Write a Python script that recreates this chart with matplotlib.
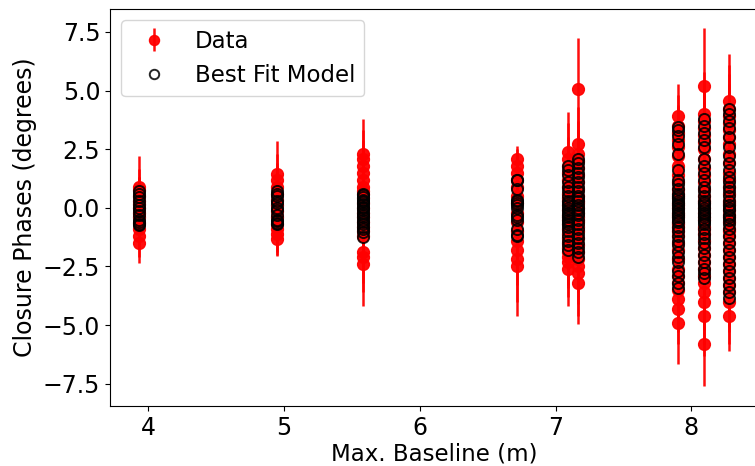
import matplotlib
matplotlib.use("Agg")
import matplotlib.pyplot as plt
import numpy as np

# ---- data: per-baseline groups ----
x_groups = [3.93, 4.95, 5.585, 6.715, 7.095, 7.165, 7.90, 8.095, 8.275]

data_groups = [
    [0.9, 0.75, 0.5, 0.3, 0.15, 0.0, -0.2, -0.4, -0.65, -0.9, -1.2, -1.5],
    [1.45, 1.2, 0.9, 0.6, 0.35, 0.1, -0.15, -0.4, -0.7, -0.9, -1.1, -1.35],
    [2.3, 2.1, 1.8, 1.5, 1.2, 0.9, 0.6, 0.4, 0.2, 0.0, -0.2, -0.4, -0.6, -0.8,
     -1.0, -1.2, -1.9, -2.1, -2.4, 0.7],
    [2.1, 1.8, 1.5, 1.2, 0.9, 0.5, 0.2, -0.2, -0.6, -1.0, -1.4, -1.8, -2.2, -2.5],
    [2.4, 2.1, 1.8, 1.5, 1.2, 0.9, 0.6, 0.3, 0.1, -0.1, -0.3, -0.5, -0.7, -0.9,
     -1.1, -1.3, -1.5, -1.7, -1.9, -2.1, -2.3, -2.6, 0.4, -0.4],
    [5.05, 2.7, 2.3, 2.0, 1.7, 1.4, 1.1, 0.8, 0.5, 0.2, 0.0, -0.2, -0.4, -0.6,
     -0.8, -1.0, -1.3, -1.6, -1.9, -2.2, -2.5, -2.8, -3.2, 0.3, -0.5],
    [3.9, 3.5, 3.2, 2.9, 2.6, 2.2, 1.8, 1.4, 1.1, 0.8, 0.6, 0.4, 0.2, 0.0, -0.2,
     -0.4, -0.6, -0.8, -1.0, -1.2, -1.5, -1.8, -2.2, -2.6, -2.9, -3.2, -3.5,
     -3.9, -4.3, -4.9, 0.1, -0.3, -0.7, 0.5],
    [5.2, 4.0, 3.7, 3.4, 3.1, 2.8, 2.5, 2.1, 1.7, 1.4, 1.1, 0.8, 0.5, 0.2, 0.0,
     -0.2, -0.5, -0.8, -1.1, -1.4, -1.7, -2.0, -2.3, -2.6, -2.9, -3.2, -3.6,
     -4.0, -4.6, -5.8, 0.3, -0.4, -0.9],
    [4.55, 4.2, 3.9, 3.6, 3.3, 3.0, 2.7, 2.3, 1.9, 1.5, 1.2, 0.9, 0.6, 0.3, 0.1,
     -0.1, -0.3, -0.6, -0.9, -1.2, -1.5, -1.8, -2.1, -2.4, -2.7, -3.0, -3.3,
     -3.6, -4.0, -4.6, 0.2, -0.4, -1.0],
]

err_groups = [
    [1.3, 0.9, 0.8, 1.0, 0.9, 1.1, 0.8, 0.9, 1.0, 0.8, 0.9, 0.85],
    [1.4, 1.1, 1.0, 1.2, 0.9, 1.0, 0.9, 1.1, 0.9, 1.0, 0.9, 0.7],
    [1.5, 1.2, 1.1, 1.0, 1.2, 1.1, 0.9, 1.0, 1.1, 1.0, 0.9, 1.1, 1.0, 0.9,
     1.0, 1.2, 1.3, 1.5, 1.8, 1.0],
    [0.55, 0.7, 0.8, 0.9, 1.0, 1.1, 0.9, 1.0, 1.1, 1.2, 1.3, 1.5, 1.8, 2.1],
    [1.7, 1.5, 1.2, 1.1, 1.0, 1.2, 1.1, 1.0, 1.2, 1.1, 1.0, 1.2, 1.1, 1.0,
     1.2, 1.1, 1.3, 1.2, 1.4, 1.3, 1.5, 1.6, 1.0, 1.1],
    [2.2, 1.6, 1.4, 1.3, 1.2, 1.3, 1.1, 1.2, 1.3, 1.1, 1.2, 1.3, 1.1, 1.2,
     1.3, 1.2, 1.4, 1.3, 1.5, 1.4, 1.6, 1.8, 1.75, 1.2, 1.3],
    [1.4, 1.3, 1.2, 1.4, 1.3, 1.2, 1.4, 1.3, 1.2, 1.4, 1.3, 1.2, 1.4, 1.3, 1.2,
     1.4, 1.3, 1.2, 1.4, 1.3, 1.2, 1.4, 1.3, 1.2, 1.4, 1.3, 1.2, 1.4, 1.5,
     1.75, 1.3, 1.2, 1.4, 1.3],
    [2.45, 1.8, 1.7, 1.6, 1.7, 1.6, 1.8, 1.7, 1.6, 1.8, 1.7, 1.6, 1.8, 1.7, 1.6,
     1.8, 1.7, 1.6, 1.8, 1.7, 1.6, 1.8, 1.7, 1.6, 1.8, 1.7, 1.6, 1.8, 1.7,
     1.8, 1.7, 1.6, 1.8],
    [2.0, 1.9, 1.8, 1.7, 1.9, 1.8, 1.7, 1.9, 1.8, 1.7, 1.9, 1.8, 1.7, 1.9, 1.8,
     1.7, 1.9, 1.8, 1.7, 1.9, 1.8, 1.7, 1.9, 1.8, 1.7, 1.9, 1.8, 1.7, 1.8,
     1.5, 1.8, 1.7, 1.9],
]

model_groups = [
    [0.7, 0.6, 0.45, 0.3, 0.1, 0.0, -0.15, -0.3, -0.5, -0.6, -0.75, -0.7],
    [0.7, 0.6, 0.5, 0.3, 0.2, 0.0, -0.1, -0.3, -0.5, -0.55, -0.65, -0.7],
    [0.6, 0.55, 0.45, 0.35, 0.25, 0.15, 0.05, 0.0, -0.1, -0.2, -0.3, -0.4,
     -0.5, -0.6, -0.7, -0.8, -0.9, -1.05, -1.25, 0.3],
    [1.2, 1.2, 0.8, 0.35, 0.3, 0.1, 0.0, -0.4, -0.5, -0.9, -1.15, -1.2, -0.3, 0.2],
    [1.8, 1.6, 1.4, 1.1, 0.9, 0.7, 0.5, 0.3, 0.1, -0.1, -0.3, -0.5, -0.6, -0.8,
     -1.0, -1.2, -1.4, -1.6, -1.8, -0.2, 0.0, -0.4, 0.2, -0.7],
    [2.1, 1.9, 1.7, 1.5, 1.3, 1.1, 0.9, 0.7, 0.5, 0.3, 0.1, -0.1, -0.3, -0.5,
     -0.7, -0.9, -1.1, -1.3, -1.5, -1.7, -1.9, -2.1, -0.2, 0.0, 0.4],
    [3.45, 3.3, 3.05, 2.7, 2.3, 1.6, 1.2, 1.0, 0.8, 0.6, 0.4, 0.2, 0.0, -0.2,
     -0.4, -0.6, -0.8, -1.0, -1.2, -1.4, -1.6, -1.9, -2.1, -2.3, -2.7, -2.9,
     -3.2, -3.4, -0.1, 0.3, -0.5, 0.5, 0.1, -0.3],
    [3.8, 3.5, 3.2, 2.9, 2.6, 2.1, 1.8, 1.5, 1.2, 0.9, 0.7, 0.5, 0.3, 0.1,
     -0.1, -0.3, -0.5, -0.7, -0.9, -1.1, -1.3, -1.5, -1.7, -2.0, -2.3, -2.6,
     -2.8, -3.0, -0.2, 0.2, -0.6, 0.0, -0.4],
    [4.2, 4.0, 3.7, 3.4, 3.0, 2.6, 2.2, 1.9, 1.6, 1.3, 1.1, 0.9, 0.7, 0.5, 0.3,
     0.1, -0.1, -0.3, -0.5, -0.7, -0.9, -1.2, -1.5, -1.8, -2.1, -2.4, -2.7,
     -3.0, -3.3, -3.6, -3.85, 0.0, -0.4],
]

# ---- figure ----
plt.rcParams['font.family'] = ['DejaVu Sans']

fig = plt.figure(figsize=(7.55, 4.66), dpi=100)
ax = fig.add_axes([0.1457, 0.1288, 0.86, 0.852])

h_data = None
h_model = None
for i, (xg, dg, eg) in enumerate(zip(x_groups, data_groups, err_groups)):
    xs = np.full(len(dg), xg)
    h = ax.errorbar(xs, dg, yerr=eg, fmt='o', color='red', ecolor='red',
                    markersize=8.5, elinewidth=1.8, capsize=0, alpha=0.95,
                    zorder=2)
    if h_data is None:
        h_data = h
for i, (xg, mg) in enumerate(zip(x_groups, model_groups)):
    xs = np.full(len(mg), xg)
    h, = ax.plot(xs, mg, 'o', markerfacecolor='none', markeredgecolor='black',
                 markersize=8, markeredgewidth=1.4, alpha=0.85, zorder=3)
    if h_model is None:
        h_model = h

ax.set_xlim(3.72, 8.5)
ax.set_ylim(-8.45, 8.48)
ax.set_xticks([4, 5, 6, 7, 8])
ax.set_yticks([-7.5, -5.0, -2.5, 0.0, 2.5, 5.0, 7.5])
ax.set_xlabel('Max. Baseline (m)', fontsize=16.5, labelpad=2)
ax.set_ylabel('Closure Phases (degrees)', fontsize=17)
ax.tick_params(labelsize=17)
ax.legend([h_data, h_model], ['Data', 'Best Fit Model'], loc='upper left',
          fontsize=16.5, markerscale=0.85)

fig.savefig('out.png', dpi=100)
